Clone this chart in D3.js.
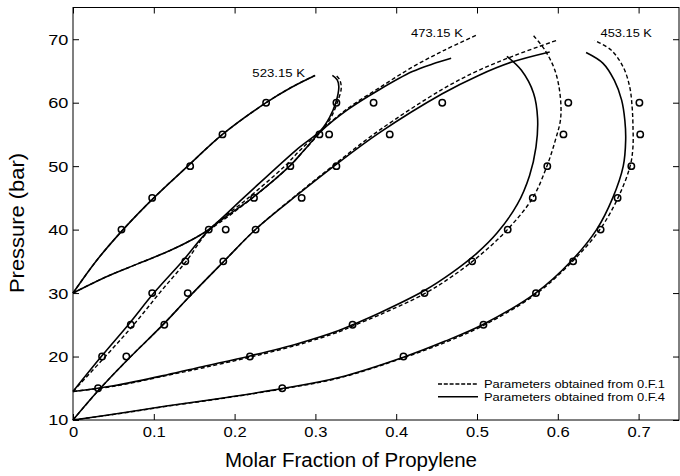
<!DOCTYPE html>
<html><head><meta charset="utf-8">
<script src="https://cdn.jsdelivr.net/npm/d3@7"></script>
<style>body{margin:0;background:#fff}svg{display:block}</style>
</head><body>
<svg id="c" width="680" height="476"></svg>
<script>
// ---- data (x = molar fraction of propylene, P in bar) ----
const xTicks = [0, 0.1, 0.2, 0.3, 0.4, 0.5, 0.6, 0.7];
const xTickLabels = ["0", "0.1", "0.2", "0.3", "0.4", "0.5", "0.6", "0.7"];
const yTicks = [10, 20, 30, 40, 50, 60, 70];
const tempLabels = ["523.15 K", "473.15 K", "453.15 K"];
const legendLabels = ["Parameters obtained from 0.F.1", "Parameters obtained from 0.F.4"];

// 453.15 K
const bub453_OF1 = [[0,10],[0.031,14.6],[0.066,19.3],[0.112,25.1],[0.143,29.3],[0.186,34.9],[0.2265,40.1],[0.276,45.4],[0.325,50.4],[0.3785,55.6],[0.457,62.1],[0.502,65.1],[0.55,67.6],[0.598,69.8]];
const bub453_OF4 = [[0,10],[0.031,14.6],[0.066,19.3],[0.112,25.1],[0.143,29.3],[0.186,34.9],[0.2265,40.1],[0.276,45.3],[0.325,50.2],[0.3785,55.2],[0.457,61.4],[0.502,64.3],[0.543,66.4],[0.59,68.0]];
const dew453_OF1 = [[0,10],[0.06,11.05],[0.1155,12.15],[0.19,13.5],[0.259,14.9],[0.329,16.6],[0.409,19.8],[0.46,22.2],[0.508,24.9],[0.5725,29.8],[0.619,35.1],[0.652,40],[0.6745,45],[0.6895,50],[0.693,53],[0.693,56.5],[0.692,59.3],[0.689,62.5],[0.681,65.6],[0.666,68.3],[0.6457,69.8]];
const dew453_OF4 = [[0,10],[0.06,11.1],[0.1155,12.2],[0.19,13.55],[0.259,14.95],[0.329,16.7],[0.409,19.9],[0.46,22.4],[0.508,25.1],[0.5725,30.0],[0.617,35.1],[0.648,40],[0.668,45],[0.681,50],[0.684,54.1],[0.683,57.2],[0.679,60.4],[0.670,63.5],[0.656,66.2],[0.635,67.9]];
// 473.15 K
const bub473_OF1 = [[0,14.5],[0.04,20],[0.075,25],[0.107,30],[0.14,35],[0.169,40],[0.217,45],[0.262,50],[0.281,52.5],[0.307,55.6],[0.34,59.1],[0.3785,62.3],[0.42,65.6],[0.46,68.3],[0.4986,70.6]];
const bub473_OF4 = [[0,14.5],[0.035,20],[0.069,25.1],[0.1,30],[0.136,35.1],[0.169,40],[0.224,45.2],[0.268,50],[0.286,52.5],[0.307,55.5],[0.34,58.9],[0.3785,62.0],[0.42,64.9],[0.445,66.1],[0.468,67.0]];
const dew473_OF1 = [[0,14.5],[0.05,15.3],[0.1155,17.0],[0.16,18.2],[0.219,19.9],[0.28,21.9],[0.329,23.9],[0.346,24.8],[0.38,26.6],[0.435,29.9],[0.47,32.7],[0.505,36.1],[0.5376,40],[0.569,45],[0.5865,50],[0.597,54.1],[0.6035,57.5],[0.6026,61.5],[0.5964,65.1],[0.584,68.3],[0.5697,70.6]];
const dew473_OF4 = [[0,14.5],[0.05,15.4],[0.1155,17.1],[0.16,18.4],[0.219,20.1],[0.28,22.1],[0.329,24.1],[0.346,25.0],[0.38,26.9],[0.435,30.4],[0.47,33.3],[0.50,36.3],[0.525,39.5],[0.55,44],[0.565,48.5],[0.573,53],[0.575,57.5],[0.570,61.5],[0.555,65.1],[0.537,67.3]];
// 523.15 K
const bub523_OF1 = [[0,30],[0.029,35.1],[0.062,40],[0.100,45],[0.142,50],[0.185,55],[0.239,60],[0.27,62.4],[0.2996,64.3]];
const bub523_OF4 = [[0,30],[0.029,35.1],[0.062,40],[0.100,45],[0.142,50],[0.185,55],[0.239,60],[0.27,62.4],[0.2996,64.3]];
const dew523_OF1 = [[0,30],[0.04,32.5],[0.08,34.6],[0.12,36.7],[0.15,38.6],[0.169,40.0],[0.224,45.2],[0.268,50],[0.286,52.5],[0.307,55.5],[0.319,57.6],[0.327,60],[0.332,62.3],[0.330,63.6],[0.325,64.4]];
const dew523_OF4 = [[0,30],[0.04,32.5],[0.08,34.6],[0.12,36.7],[0.15,38.6],[0.169,40.1],[0.211,45],[0.2758,52.5],[0.307,55.7],[0.318,57.8],[0.325,59.9],[0.329,62.5],[0.327,63.6],[0.321,64.3]];

// experimental points
const exp453 = [[0.031,15],[0.066,20],[0.113,25],[0.142,30],[0.186,35],[0.226,40],[0.283,45],[0.326,50],[0.392,55],[0.457,60],
                [0.259,15],[0.409,20],[0.508,25],[0.573,30],[0.619,35],[0.653,40],[0.674,45],[0.691,50],[0.702,55],[0.701,60]];
const exp473 = [[0.036,20],[0.0715,25],[0.098,30],[0.139,35],[0.168,40],[0.224,45],[0.269,50],[0.305,55],[0.372,60],
                [0.219,20],[0.346,25],[0.435,30],[0.494,35],[0.538,40],[0.569,45],[0.587,50],[0.607,55],[0.613,60]];
const exp523 = [[0.06,40],[0.098,45],[0.145,50],[0.185,55],[0.239,60],[0.189,40],[0.317,55],[0.326,60]];

// label anchor data positions
const labelPos = [[0.222,64.1],[0.4184,70.3],[0.653,70.4]];

// ---- drawing ----
const svg = d3.select("#c");
const x = d3.scaleLinear().domain([0, 0.75]).range([73, 679]);
const y = d3.scaleLinear().domain([10, 75]).range([420, 7.5]);
const font = "'Liberation Sans', Arial, Helvetica, sans-serif";

const line = d3.line().x(d => x(d[0])).y(d => y(d[1])).curve(d3.curveCatmullRom.alpha(0.5));

const solids = [bub453_OF4, dew453_OF4, bub473_OF4, dew473_OF4, bub523_OF4, dew523_OF4];
const dashes = [bub453_OF1, dew453_OF1, bub473_OF1, dew473_OF1, bub523_OF1, dew523_OF1];

const g = svg.append("g");
g.selectAll("path.sol").data(solids).join("path").attr("class","sol")
  .attr("d", line).attr("fill","none").attr("stroke","#000").attr("stroke-width",1.6);
g.selectAll("path.das").data(dashes).join("path").attr("class","das")
  .attr("d", line).attr("fill","none").attr("stroke","#000").attr("stroke-width",1.4)
  .attr("stroke-dasharray","4,2.5");

const pts = exp453.concat(exp473, exp523);
g.selectAll("circle").data(pts).join("circle")
  .attr("cx", d => x(d[0])).attr("cy", d => y(d[1])).attr("r", 3.2)
  .attr("fill","none").attr("stroke","#000").attr("stroke-width",1.5);

// axes (inward ticks)
function styleAxis(sx){
  return sel => {
    sel.select(".domain").remove();
    sel.selectAll("line").attr("stroke","#000").attr("stroke-width",1);
    sel.selectAll("text").attr("font-family", font).attr("font-size", 15.5).attr("fill","#000")
      .attr("transform", `scale(${sx},1)`);
  };
}
svg.append("g").attr("transform",`translate(0,${y(10)})`)
  .call(d3.axisBottom(x).tickValues(xTicks).tickFormat((d,i)=>xTickLabels[i]).tickSizeInner(-6).tickSizeOuter(0).tickPadding(6))
  .call(styleAxis(1.07));
svg.append("g").attr("transform",`translate(0,${y(75)})`)
  .call(d3.axisTop(x).tickValues(xTicks).tickFormat("").tickSizeInner(-6).tickSizeOuter(0))
  .call(styleAxis(1));
svg.append("g").attr("transform",`translate(${x(0)},0)`)
  .call(d3.axisLeft(y).tickValues(yTicks).tickFormat(d3.format("d")).tickSizeInner(-6).tickSizeOuter(0).tickPadding(4))
  .call(styleAxis(1.17));
svg.append("g").attr("transform",`translate(${x(0.75)},0)`)
  .call(d3.axisRight(y).tickValues(yTicks).tickFormat("").tickSizeInner(-6).tickSizeOuter(0))
  .call(styleAxis(1));

// frame
svg.append("rect").attr("x", x(0)).attr("y", y(75)).attr("width", x(0.75)-x(0)).attr("height", y(10)-y(75))
  .attr("fill","none").attr("stroke","#000").attr("stroke-width",1);

// axis titles
svg.append("text").attr("x", 351).attr("y", 467).attr("text-anchor","middle")
  .attr("font-family", font).attr("font-size", 19.5)
  .attr("textLength", 252).attr("lengthAdjust","spacingAndGlyphs").text("Molar Fraction of Propylene");
svg.append("text").attr("transform","translate(24,223) rotate(-90)").attr("text-anchor","middle")
  .attr("font-family", font).attr("font-size", 19.5)
  .attr("textLength", 140).attr("lengthAdjust","spacingAndGlyphs").text("Pressure (bar)");

// temperature labels
const tempLen = [52.7, 51.7, 51.3];
svg.selectAll("text.tl").data(tempLabels).join("text").attr("class","tl")
  .attr("x", (d,i) => x(labelPos[i][0])).attr("y", (d,i) => y(labelPos[i][1]))
  .attr("font-family", font).attr("font-size", 11.8).attr("fill","#000")
  .attr("textLength", (d,i) => tempLen[i]).attr("lengthAdjust","spacingAndGlyphs").text(d => d);

// legend
const lg = svg.append("g");
const lx0 = 438, lx1 = 478, ly = [384, 396.7];
legendLabels.forEach((t,i) => {
  lg.append("line").attr("x1", lx0).attr("x2", lx1).attr("y1", ly[i]).attr("y2", ly[i])
    .attr("stroke","#000").attr("stroke-width", i===0?1.4:1.6)
    .attr("stroke-dasharray", i===0 ? "4,1.8" : null);
  lg.append("text").attr("x", 484).attr("y", ly[i]+4.1).attr("font-family", font)
    .attr("font-size", 11).attr("fill","#000")
    .attr("textLength", 181).attr("lengthAdjust","spacingAndGlyphs").text(t);
});
</script>
</body></html>
